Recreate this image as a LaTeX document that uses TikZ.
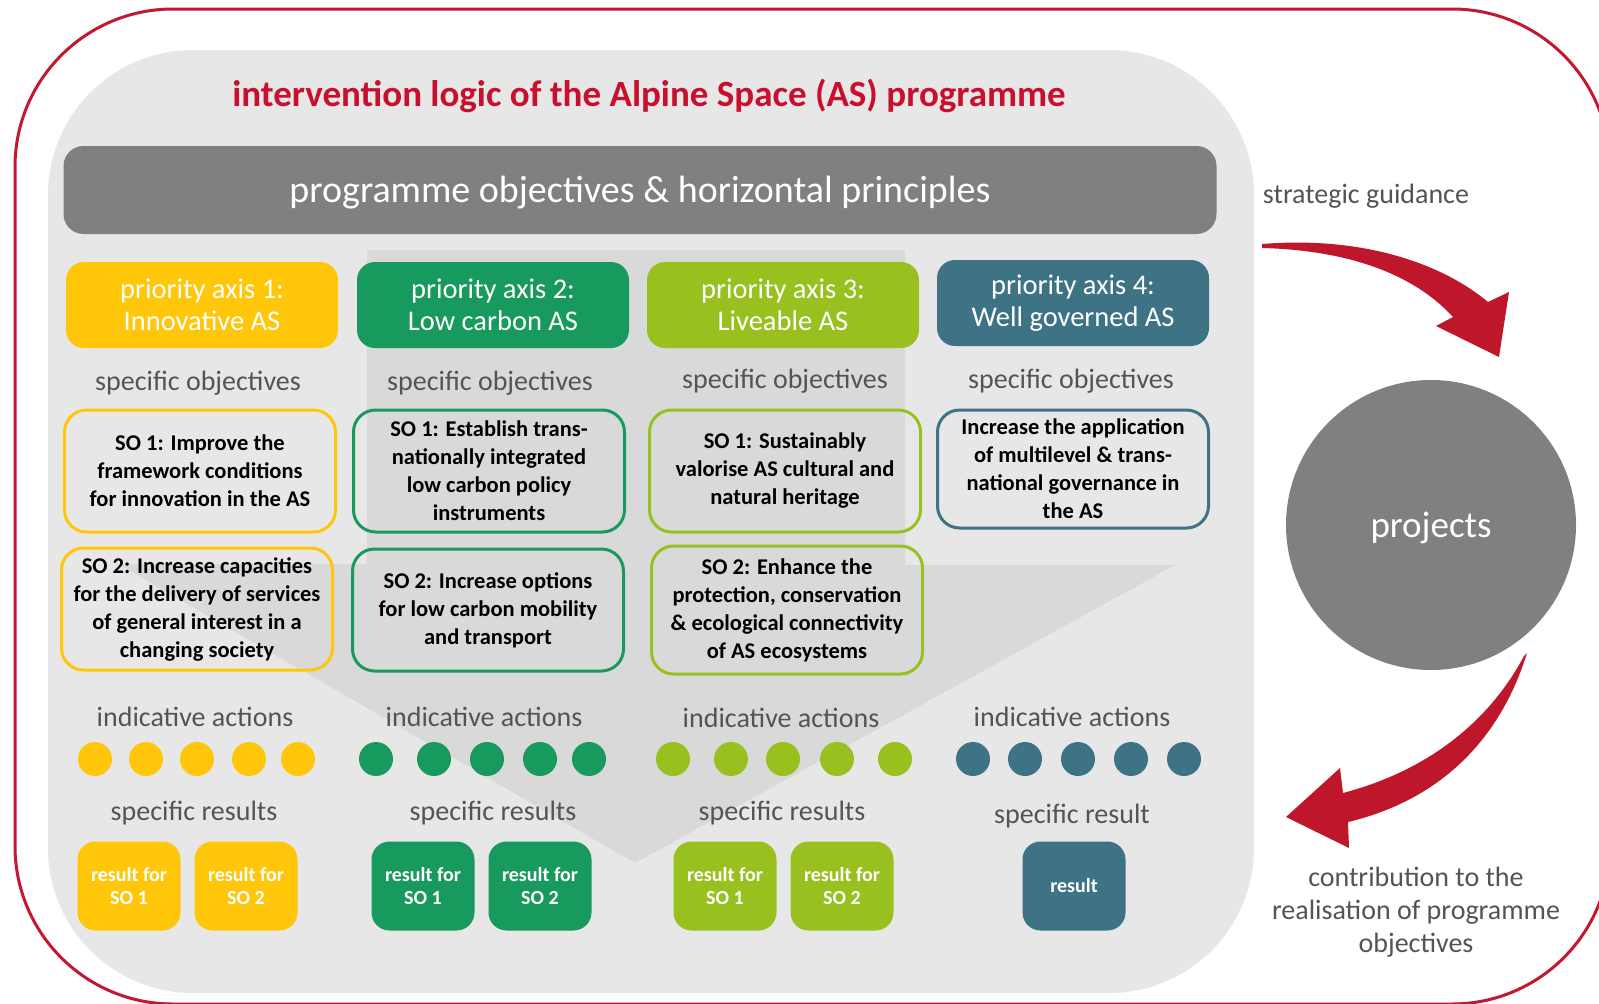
\documentclass[tikz,border=0pt]{standalone}
\usepackage{fontspec}
\setmainfont{Carlito}

\definecolor{asred}{RGB}{200,16,46}
\definecolor{arrowred}{RGB}{190,22,42}
\definecolor{framered}{RGB}{196,24,50}
\definecolor{panelgray}{RGB}{231,231,231}
\definecolor{funnelgray}{RGB}{217,217,217}
\definecolor{headgray}{RGB}{128,128,128}
\definecolor{labelgray}{RGB}{84,84,84}
\definecolor{axisyellow}{RGB}{255,198,10}
\definecolor{axisgreen}{RGB}{24,153,94}
\definecolor{axislime}{RGB}{152,193,31}
\definecolor{axisteal}{RGB}{61,115,133}

\begin{document}
\begin{tikzpicture}[x=1pt,y=-1pt,
	axisbox/.style={rounded corners=18pt,minimum width=272pt,minimum height=86pt,inner sep=0pt,align=center,text=white,font=\fontsize{28.5}{32}\selectfont},
	sobox/.style={draw,line width=3pt,rounded corners=22pt,minimum width=271pt,minimum height=122pt,inner sep=0pt,align=center,text=black,font=\bfseries\fontsize{22.5}{28}\selectfont},
	sublabel/.style={inner sep=0pt,text=labelgray,align=center,font=\fontsize{28}{33}\selectfont},
	resbox/.style={rounded corners=18pt,minimum width=103pt,minimum height=89pt,inner sep=0pt,align=center,text=white,font=\bfseries\fontsize{20}{23}\selectfont},
	actdot/.style={circle,minimum size=34pt,inner sep=0pt}]
	\clip (0,0) rectangle (1599,1004);
	\fill[white] (0,0) rectangle (1599,1004);
	\draw[framered,line width=3pt,rounded corners=158pt] (15,9) rectangle (1610,1004);
	\fill[panelgray,rounded corners=145pt] (48,50) rectangle (1254,993);
	\fill[funnelgray] (367,250) -- (905,250) -- (905,565) -- (1175,565) -- (635,863) -- (118,564) -- (367,564) -- cycle;

	\node[inner sep=0pt,text=asred,font=\bfseries\fontsize{37}{40}\selectfont] (title) at (649,96) {intervention logic of the Alpine Space (AS) programme};
	\node[fill=headgray,rounded corners=20pt,minimum width=1153pt,minimum height=88pt,inner sep=0pt,text=white,font=\fontsize{38}{40}\selectfont] (objectives) at (640,190) {};
	\node[inner sep=0pt,text=white,font=\fontsize{38}{40}\selectfont] (objtext) at (640,193) {programme objectives \& horizontal principles};

	\node[axisbox,fill=axisyellow] (axis1) at (202,305) {priority axis 1:\\Innovative AS};
	\node[axisbox,fill=axisgreen] (axis2) at (493,305) {priority axis 2:\\Low carbon AS};
	\node[axisbox,fill=axislime] (axis3) at (783,305) {priority axis 3:\\Liveable AS};
	\node[axisbox,fill=axisteal] (axis4) at (1073,303) {priority axis 4:\\Well governed AS};

	\node[sublabel] (obj1) at (198,383) {specific objectives};
	\node[sublabel] (obj2) at (490,383) {specific objectives};
	\node[sublabel] (obj3) at (785,381) {specific objectives};
	\node[sublabel] (obj4) at (1071,381) {specific objectives};

	\node[sobox,draw=axisyellow] (so11) at (200,471) {SO 1: Improve the\\framework conditions\\for innovation in the AS};
	\node[sobox,draw=axisgreen] (so21) at (489,471) {SO 1: Establish trans-\\nationally integrated\\low carbon policy\\instruments};
	\node[sobox,draw=axislime] (so31) at (785,471) {SO 1: Sustainably\\valorise AS cultural and\\natural heritage};
	\node[sobox,draw=axisteal,minimum height=118pt] (so41) at (1073,469) {Increase the application\\of multilevel \& trans-\\national governance in\\the AS};
	\node[sobox,draw=axisyellow] (so12) at (197,609) {SO 2: Increase capacities\\for the delivery of services\\of general interest in a\\changing society};
	\node[sobox,draw=axisgreen] (so22) at (488,610) {SO 2: Increase options\\for low carbon mobility\\and transport};
	\node[sobox,draw=axislime,minimum height=128pt] (so32) at (787,610) {SO 2: Enhance the\\protection, conservation\\\& ecological connectivity\\of AS ecosystems};

	\node[sublabel] (act1) at (195,717) {indicative actions};
	\node[sublabel] (act2) at (484,717) {indicative actions};
	\node[sublabel] (act3) at (781,718) {indicative actions};
	\node[sublabel] (act4) at (1072,717) {indicative actions};

	\foreach \x [count=\i] in {95,146,197,249,298}
		\node[actdot,fill=axisyellow] (dot1-\i) at (\x,759) {};
	\foreach \x [count=\i] in {376,434,487,540,589}
		\node[actdot,fill=axisgreen] (dot2-\i) at (\x,759) {};
	\foreach \x [count=\i] in {673,731,783,837,895}
		\node[actdot,fill=axislime] (dot3-\i) at (\x,759) {};
	\foreach \x [count=\i] in {973,1025,1078,1131,1184}
		\node[actdot,fill=axisteal] (dot4-\i) at (\x,759) {};

	\node[sublabel] (res1) at (194,813) {specific results};
	\node[sublabel] (res2) at (493,813) {specific results};
	\node[sublabel] (res3) at (782,813) {specific results};
	\node[sublabel] (res4) at (1072,816) {specific result};

	\node[resbox,fill=axisyellow] (r11) at (129,886) {result for\\SO 1};
	\node[resbox,fill=axisyellow] (r12) at (246,886) {result for\\SO 2};
	\node[resbox,fill=axisgreen] (r21) at (423,886) {result for\\SO 1};
	\node[resbox,fill=axisgreen] (r22) at (540,886) {result for\\SO 2};
	\node[resbox,fill=axislime] (r31) at (725,886) {result for\\SO 1};
	\node[resbox,fill=axislime] (r32) at (842,886) {result for\\SO 2};
	\node[resbox,fill=axisteal] (r41) at (1074,886) {result};

	\node[sublabel] (guidance) at (1366,196) {strategic guidance};
	\node[circle,fill=headgray,minimum size=290pt,inner sep=0pt] (projects) at (1431,525) {};
	\node[inner sep=0pt,text=white,font=\fontsize{37}{40}\selectfont] (projtext) at (1431,528) {projects};
	\node[sublabel] (contribution) at (1416,912) {contribution to the\\realisation of programme\\objectives};

	\fill[arrowred] (1262,244) .. controls (1360,236) and (1440,262) .. (1488,302) -- (1509,292) -- (1499,357) -- (1436,326) -- (1453,317) .. controls (1410,270) and (1340,250) .. (1262,248) -- cycle;
	\fill[arrowred] (1527,653) .. controls (1500,740) and (1440,800) .. (1348,822) -- (1349,848) -- (1286,817) -- (1340,768) -- (1343,793) .. controls (1430,770) and (1490,720) .. (1524,656) -- cycle;
\end{tikzpicture}
\end{document}
